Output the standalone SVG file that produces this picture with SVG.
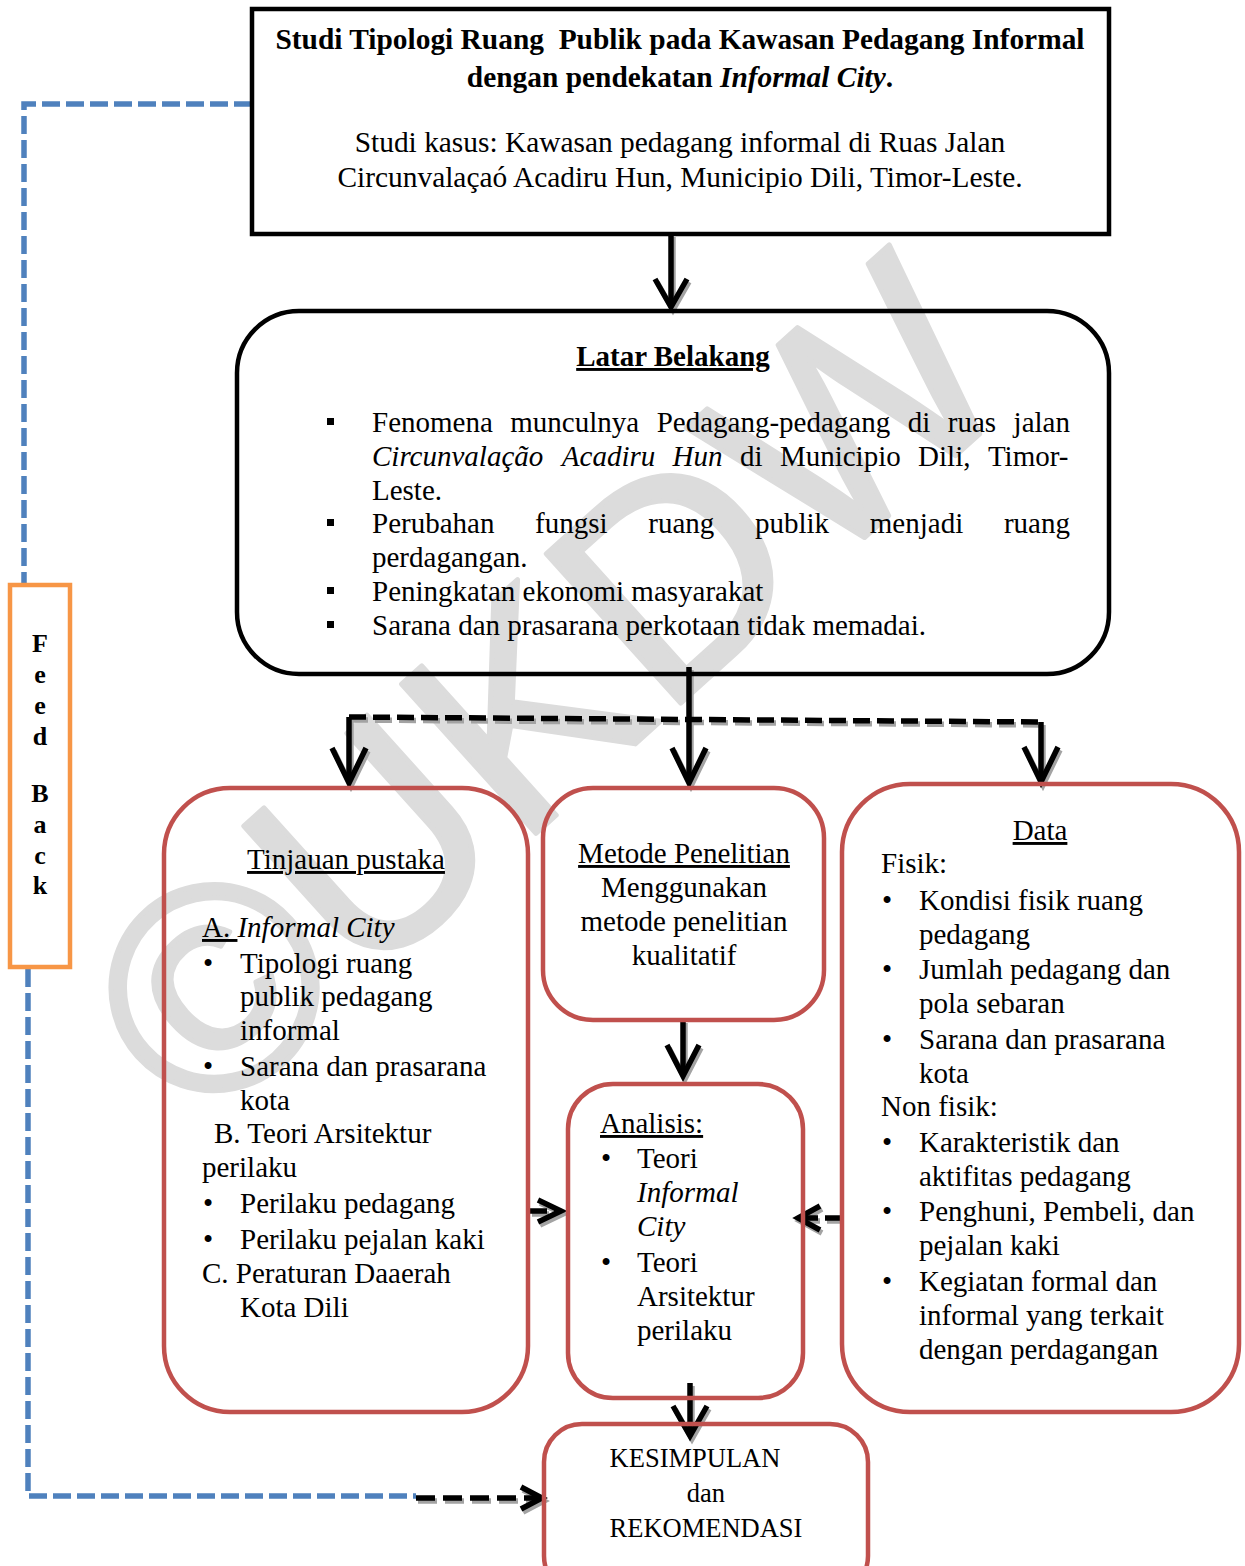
<svg xmlns="http://www.w3.org/2000/svg" width="1245" height="1566" viewBox="0 0 1245 1566">
<style>
.t{font-family:"Liberation Serif","Times New Roman",serif;font-size:29px;fill:#000}
.tt{font-size:29.4px}
.b{font-weight:bold}
.i{font-style:italic}
.u{text-decoration:underline}
.c{text-anchor:middle}
.bk{fill:none;stroke:#000;stroke-width:4.5}
.rd{fill:none;stroke:#C0504D;stroke-width:4.5}
.ln{fill:none;stroke:#000;stroke-width:5.5;stroke-linejoin:miter;stroke-linecap:butt}
.sh{fill:none;stroke:#a3a3a3;stroke-width:5.5;stroke-linejoin:miter;stroke-linecap:butt}
.dsh{stroke-dasharray:17 7}
.dsh2{stroke-dasharray:19 8}
.blue{fill:none;stroke:#4F81BD;stroke-width:5.5;stroke-dasharray:18 6}
.fb{fill:#fff;stroke:#F79646;stroke-width:4.5}
.wm{font-family:"Liberation Sans",Arial,sans-serif;font-size:292px;fill:#dcdcdc;stroke:#dcdcdc;stroke-width:5;stroke-linejoin:round}
</style>
<rect width="1245" height="1566" fill="#fff"/>
<text id="watermark" class="wm" x="613" y="764" text-anchor="middle" transform="rotate(-42 613 764)">©UKDW</text>

<g id="connectors">
  <g class="sh" transform="translate(2,3)">
    <path d="M671 234 V306"/><path d="M655 279 L671 307 L687 279"/>
    <path d="M689 667 V782"/><path d="M672 748 L689 783 L706 748"/>
    <path class="dsh" d="M349 717 L1041 722"/>
    <path d="M349 717 V782"/><path d="M332 748 L349 783 L366 748"/>
    <path d="M1041 722 V781"/><path d="M1024 747 L1041 782 L1058 747"/>
    <path d="M683 1020 V1075"/><path d="M667 1045 L683 1076 L699 1045"/>
    <path class="dsh" d="M530 1211 H559"/><path d="M538 1200 L561 1211 L538 1222"/>
    <path class="dsh" d="M842 1218 H800"/><path d="M820 1206 L798 1218 L820 1230"/>
    <path d="M690 1383 V1435"/><path d="M673 1406 L690 1436 L707 1406"/>
    <path class="dsh2" d="M416 1498 H540"/><path d="M521 1487 L542 1498 L521 1509"/>
  </g>
  <g class="ln">
    <path d="M671 234 V306"/><path d="M655 279 L671 307 L687 279"/>
    <path d="M689 667 V782"/><path d="M672 748 L689 783 L706 748"/>
    <path class="dsh" d="M349 717 L1041 722"/>
    <path d="M349 717 V782"/><path d="M332 748 L349 783 L366 748"/>
    <path d="M1041 722 V781"/><path d="M1024 747 L1041 782 L1058 747"/>
    <path d="M683 1020 V1075"/><path d="M667 1045 L683 1076 L699 1045"/>
    <path class="dsh" d="M530 1211 H559"/><path d="M538 1200 L561 1211 L538 1222"/>
    <path class="dsh" d="M842 1218 H800"/><path d="M820 1206 L798 1218 L820 1230"/>
    <path d="M690 1383 V1435"/><path d="M673 1406 L690 1436 L707 1406"/>
    <path class="dsh2" d="M416 1498 H540"/><path d="M521 1487 L542 1498 L521 1509"/>
  </g>
  <path class="blue" d="M252 104 H24 V585"/>
  <path class="blue" d="M28 969 V1496 H416"/>
</g>

<g id="node-judul">
  <rect class="bk" x="252" y="9" width="857" height="225"/>
  <text class="t tt b c" x="680" y="49" xml:space="preserve">Studi Tipologi Ruang  Publik pada Kawasan Pedagang Informal</text>
  <text class="t tt b c" x="680" y="87">dengan pendekatan <tspan class="i">Informal City</tspan>.</text>
  <text class="t tt c" x="680" y="152">Studi kasus: Kawasan pedagang informal di Ruas Jalan</text>
  <text class="t tt c" x="680" y="187">Circunvalaçaó Acadiru Hun, Municipio Dili, Timor-Leste.</text>
</g>

<g id="node-latar">
  <rect class="bk" x="237" y="311" width="872" height="363" rx="62" ry="62"/>
  <text class="t b c u" x="673" y="366">Latar Belakang</text>
  <rect x="327" y="418" width="7" height="7"/>
  <rect x="327" y="519" width="7" height="7"/>
  <rect x="327" y="587" width="7" height="7"/>
  <rect x="327" y="621" width="7" height="7"/>
  <text class="t" y="432"><tspan x="372">Fenomena</tspan><tspan x="510.3">munculnya</tspan><tspan x="656.7">Pedagang-pedagang</tspan><tspan x="907.7">di</tspan><tspan x="947.8">ruas</tspan><tspan x="1013.6">jalan</tspan></text>
  <text class="t" y="466"><tspan x="372" class="i">Circunvalação</tspan><tspan x="561.8" class="i">Acadiru</tspan><tspan x="672.6" class="i">Hun</tspan><tspan x="739.9">di</tspan><tspan x="779.9">Municipio</tspan><tspan x="918.1">Dili,</tspan><tspan x="987.9">Timor-</tspan></text>
  <text class="t" x="372" y="500">Leste.</text>
  <text class="t" y="533"><tspan x="372">Perubahan</tspan><tspan x="535.1">fungsi</tspan><tspan x="648.3">ruang</tspan><tspan x="755">publik</tspan><tspan x="869.8">menjadi</tspan><tspan x="1003.9">ruang</tspan></text>
  <text class="t" x="372" y="567">perdagangan.</text>
  <text class="t" x="372" y="601">Peningkatan ekonomi masyarakat</text>
  <text class="t" x="372" y="635">Sarana dan prasarana perkotaan tidak memadai.</text>
</g>

<g id="node-tinjauan">
  <rect class="rd" x="164" y="788" width="364" height="624" rx="66" ry="66"/>
  <text class="t c u" x="346" y="869">Tinjauan pustaka</text>
  <text class="t" x="202" y="937" xml:space="preserve"><tspan class="u">A. </tspan><tspan class="i">Informal City</tspan></text>
  <text class="t" x="203" y="973">•</text>
  <text class="t" x="240" y="973">Tipologi ruang</text>
  <text class="t" x="240" y="1006">publik pedagang</text>
  <text class="t" x="240" y="1040">informal</text>
  <text class="t" x="203" y="1076">•</text>
  <text class="t" x="240" y="1076">Sarana dan prasarana</text>
  <text class="t" x="240" y="1110">kota</text>
  <text class="t" x="214" y="1143">B. Teori Arsitektur</text>
  <text class="t" x="202" y="1177">perilaku</text>
  <text class="t" x="203" y="1213">•</text>
  <text class="t" x="240" y="1213">Perilaku pedagang</text>
  <text class="t" x="203" y="1249">•</text>
  <text class="t" x="240" y="1249">Perilaku pejalan kaki</text>
  <text class="t" x="202" y="1283">C. Peraturan Daaerah</text>
  <text class="t" x="240" y="1317">Kota Dili</text>
</g>

<g id="node-metode">
  <rect class="rd" x="543" y="788" width="281" height="232" rx="50" ry="50"/>
  <text class="t c u" x="684" y="863">Metode Penelitian</text>
  <text class="t c" x="684" y="897">Menggunakan</text>
  <text class="t c" x="684" y="931">metode penelitian</text>
  <text class="t c" x="684" y="965">kualitatif</text>
</g>

<g id="node-data">
  <rect class="rd" x="842" y="784" width="397" height="628" rx="68" ry="68"/>
  <text class="t c u" x="1040" y="840">Data</text>
  <text class="t" x="881" y="873">Fisik:</text>
  <text class="t" x="882" y="910">•</text>
  <text class="t" x="919" y="910">Kondisi fisik ruang</text>
  <text class="t" x="919" y="944">pedagang</text>
  <text class="t" x="882" y="979">•</text>
  <text class="t" x="919" y="979">Jumlah pedagang dan</text>
  <text class="t" x="919" y="1013">pola sebaran</text>
  <text class="t" x="882" y="1049">•</text>
  <text class="t" x="919" y="1049">Sarana dan prasarana</text>
  <text class="t" x="919" y="1083">kota</text>
  <text class="t" x="881" y="1116">Non fisik:</text>
  <text class="t" x="882" y="1152">•</text>
  <text class="t" x="919" y="1152">Karakteristik dan</text>
  <text class="t" x="919" y="1186">aktifitas pedagang</text>
  <text class="t" x="882" y="1221">•</text>
  <text class="t" x="919" y="1221">Penghuni, Pembeli, dan</text>
  <text class="t" x="919" y="1255">pejalan kaki</text>
  <text class="t" x="882" y="1291">•</text>
  <text class="t" x="919" y="1291">Kegiatan formal dan</text>
  <text class="t" x="919" y="1325">informal yang terkait</text>
  <text class="t" x="919" y="1359">dengan perdagangan</text>
</g>

<g id="node-analisis">
  <rect class="rd" x="568" y="1084" width="235" height="314" rx="45" ry="45"/>
  <text class="t u" x="600" y="1133">Analisis:</text>
  <text class="t" x="601" y="1168">•</text>
  <text class="t" x="637" y="1168">Teori</text>
  <text class="t i" x="637" y="1202">Informal</text>
  <text class="t i" x="637" y="1236">City</text>
  <text class="t" x="601" y="1272">•</text>
  <text class="t" x="637" y="1272">Teori</text>
  <text class="t" x="637" y="1306">Arsitektur</text>
  <text class="t" x="637" y="1340">perilaku</text>
</g>

<g id="node-kesimpulan">
  <rect class="rd" x="544" y="1424" width="324" height="170" rx="38" ry="38"/>
  <text class="t c" x="695" y="1467" style="font-size:26.5px">KESIMPULAN</text>
  <text class="t c" x="706" y="1502" style="font-size:26.5px">dan</text>
  <text class="t c" x="706" y="1537" style="font-size:26.5px">REKOMENDASI</text>
</g>

<g id="node-feedback">
  <rect class="fb" x="10" y="585" width="60" height="382"/>
  <g class="t b c" style="font-size:26px">
    <text x="40" y="652">F</text>
    <text x="40" y="683">e</text>
    <text x="40" y="714">e</text>
    <text x="40" y="745">d</text>
    <text x="40" y="802">B</text>
    <text x="40" y="833">a</text>
    <text x="40" y="864">c</text>
    <text x="40" y="894">k</text>
  </g>
</g>
</svg>
